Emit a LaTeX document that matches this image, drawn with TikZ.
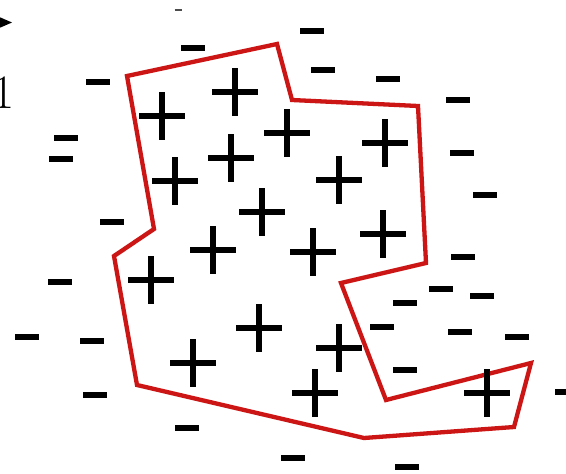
\documentclass[tikz,border=0pt]{standalone}
\usepackage{fontspec}
\definecolor{hullred}{RGB}{204,22,22}
\tikzset{
  plusbar/.style={line width=6.5pt,black},
  minusbar/.style={line width=6.5pt,black},
  hull/.style={draw=hullred,line width=4.3pt,line join=miter},
}
\begin{document}
\begin{tikzpicture}[x=1pt,y=-1pt]
\useasboundingbox (0,0) rectangle (566,474);
\clip (0,0) rectangle (566,474);
\fill[white] (0,0) rectangle (566,474);
% cut-off arrow tip and label at the left border
\fill[black] (-3,16) -- (12,22.5) -- (-3,29) -- cycle;
\node[anchor=base west,inner sep=0pt,font=\fontsize{48}{48}\selectfont] (lbl) at (-8,108) {1};
% red boundary
\draw[hull] (127,76) -- (277,44) -- (292,100) -- (418,106) -- (426,263)
  -- (341,283) -- (386,400) -- (531,363) -- (514,427) -- (364,438)
  -- (137,385) -- (114,256) -- (154,229) -- cycle;
% plus signs
\foreach \x/\y in {162/116,235/92,287/133,385/143,231/158,175/181,339/180,
  262/212,213/250,313/252,383/234,151/280,259/328,193/363,339/348,315/393,487/393}{
  \draw[plusbar] (\x-23,\y) -- (\x+23,\y);
  \draw[plusbar] (\x,\y-24) -- (\x,\y+24);
}
% minus signs
\foreach \x/\y in {193/48,312/31,323/70,388/79,98/82,458/100,66/138,61/159,
  462/153,485/195,112/222,463/257,60/282,405/303,441/289,482/296,27/337,
  92/341,95/395,382/327,460/332,517/337,405/370,407/467,187/428,293/458}{
  \draw[minusbar] (\x-12,\y) -- (\x+12,\y);
}
\draw[minusbar] (555,392) -- (570,392);
\draw[line width=2.5pt,black!70] (174.5,10) -- (181.5,10);
\end{tikzpicture}
\end{document}
